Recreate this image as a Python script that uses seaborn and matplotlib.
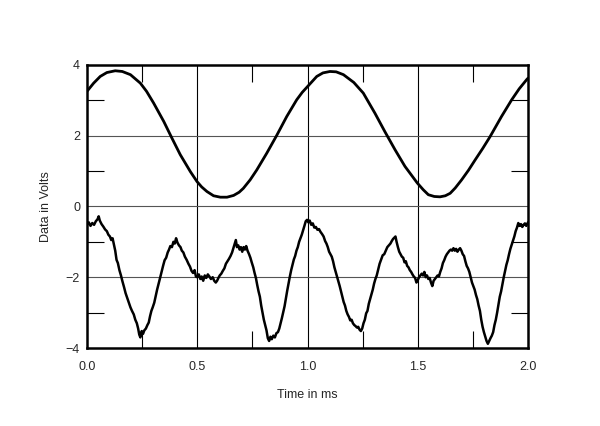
import pandas as pd
import matplotlib
matplotlib.use("Agg")
import matplotlib.pyplot as plt
from matplotlib.ticker import MultipleLocator
import seaborn as sns

# Smooth trace
sine_t = [0.0, 0.03, 0.06, 0.09, 0.128, 0.16, 0.197, 0.242, 0.27, 0.302,
          0.348, 0.385, 0.423, 0.469, 0.499, 0.52, 0.544, 0.574, 0.605, 0.635,
          0.665, 0.69, 0.709, 0.74, 0.770, 0.815, 0.860, 0.906, 0.951, 0.976,
          1.001, 1.042, 1.07, 1.102, 1.13, 1.163, 1.21, 1.253, 1.306, 1.351,
          1.397, 1.442, 1.498, 1.525, 1.548, 1.575, 1.601, 1.625, 1.647, 1.67,
          1.699, 1.730, 1.760, 1.795, 1.828, 1.880, 1.926, 1.96, 1.994, 2.0]
sine_v = [3.25, 3.48, 3.67, 3.78, 3.83, 3.81, 3.72, 3.48, 3.25, 2.92,
          2.40, 1.93, 1.46, 0.98, 0.70, 0.55, 0.42, 0.30, 0.26, 0.26,
          0.31, 0.40, 0.51, 0.75, 1.03, 1.50, 2.00, 2.54, 3.01, 3.22,
          3.39, 3.67, 3.77, 3.81, 3.80, 3.72, 3.50, 3.20, 2.63, 2.11,
          1.60, 1.13, 0.66, 0.47, 0.33, 0.28, 0.27, 0.30, 0.37, 0.52,
          0.75, 1.02, 1.31, 1.64, 1.97, 2.54, 3.01, 3.32, 3.58, 3.62]

# Noisy trace
noisy_t = [0.000, 0.008, 0.016, 0.024, 0.032, 0.040, 0.048, 0.053, 0.058, 0.066,
           0.074, 0.082, 0.090, 0.097, 0.104, 0.110, 0.116, 0.122, 0.128, 0.134,
           0.140, 0.147, 0.154, 0.160, 0.168, 0.175, 0.182, 0.190, 0.197, 0.204,
           0.212, 0.219, 0.226, 0.232, 0.237, 0.242, 0.248, 0.254, 0.260, 0.267,
           0.274, 0.280, 0.286, 0.292, 0.298, 0.305, 0.311, 0.318, 0.325, 0.331,
           0.338, 0.345, 0.352, 0.359, 0.366, 0.372, 0.378, 0.385, 0.392, 0.398,
           0.404, 0.410, 0.417, 0.424, 0.430, 0.437, 0.444, 0.452, 0.460, 0.467,
           0.474, 0.481, 0.488, 0.494, 0.500, 0.507, 0.514, 0.520, 0.527, 0.534,
           0.541, 0.548, 0.555, 0.562, 0.570, 0.577, 0.584, 0.590, 0.596, 0.602,
           0.609, 0.616, 0.623, 0.630, 0.637, 0.644, 0.651, 0.658, 0.664, 0.670,
           0.675, 0.680, 0.686, 0.692, 0.698, 0.704, 0.710, 0.716, 0.722, 0.728,
           0.735, 0.741, 0.747, 0.754, 0.760, 0.766, 0.772, 0.778, 0.784, 0.790,
           0.796, 0.802, 0.808, 0.814, 0.820, 0.826, 0.832, 0.838, 0.845, 0.852,
           0.859, 0.866, 0.872, 0.878, 0.884, 0.890, 0.896, 0.902, 0.908, 0.914,
           0.920, 0.926, 0.932, 0.938, 0.944, 0.950, 0.956, 0.962, 0.968, 0.974,
           0.980, 0.986, 0.992, 0.998, 1.004, 1.010, 1.017, 1.024, 1.031, 1.038,
           1.045, 1.052, 1.059, 1.066, 1.073, 1.080, 1.086, 1.092, 1.098, 1.104,
           1.110, 1.116, 1.122, 1.128, 1.134, 1.140, 1.146, 1.152, 1.158, 1.164,
           1.170, 1.176, 1.182, 1.188, 1.194, 1.200, 1.206, 1.212, 1.218, 1.224,
           1.230, 1.236, 1.242, 1.248, 1.254, 1.260, 1.266, 1.272, 1.278, 1.284,
           1.290, 1.296, 1.302, 1.308, 1.314, 1.320, 1.327, 1.334, 1.341, 1.348,
           1.355, 1.362, 1.369, 1.376, 1.382, 1.388, 1.394, 1.399, 1.404, 1.410,
           1.416, 1.422, 1.428, 1.434, 1.440, 1.446, 1.452, 1.458, 1.464, 1.470,
           1.476, 1.482, 1.488, 1.494, 1.500, 1.506, 1.512, 1.518, 1.524, 1.530,
           1.536, 1.542, 1.548, 1.554, 1.560, 1.566, 1.572, 1.578, 1.584, 1.590,
           1.596, 1.602, 1.608, 1.614, 1.620, 1.626, 1.632, 1.638, 1.644, 1.650,
           1.656, 1.662, 1.668, 1.674, 1.680, 1.686, 1.692, 1.698, 1.704, 1.710,
           1.716, 1.722, 1.728, 1.734, 1.740, 1.746, 1.752, 1.758, 1.764, 1.770,
           1.776, 1.782, 1.788, 1.794, 1.800, 1.806, 1.812, 1.818, 1.824, 1.830,
           1.836, 1.842, 1.848, 1.854, 1.860, 1.866, 1.872, 1.878, 1.884, 1.890,
           1.896, 1.902, 1.908, 1.914, 1.920, 1.926, 1.932, 1.938, 1.944, 1.950,
           1.956, 1.962, 1.968, 1.974, 1.980, 1.986, 1.992, 2.000]
noisy_v = [-0.52, -0.45, -0.55, -0.47, -0.52, -0.42, -0.36, -0.28, -0.40, -0.50,
           -0.57, -0.65, -0.70, -0.80, -0.85, -0.95, -0.90, -1.08, -1.25, -1.51,
           -1.60, -1.80, -1.95, -2.10, -2.28, -2.45, -2.58, -2.72, -2.85, -2.95,
           -3.05, -3.20, -3.30, -3.45, -3.62, -3.70, -3.52, -3.60, -3.50, -3.45,
           -3.35, -3.28, -3.10, -2.95, -2.85, -2.72, -2.55, -2.35, -2.18, -2.03,
           -1.85, -1.68, -1.52, -1.45, -1.30, -1.22, -1.12, -1.15, -1.00, -1.05,
           -0.90, -1.02, -1.10, -1.15, -1.25, -1.30, -1.42, -1.51, -1.62, -1.70,
           -1.82, -1.88, -1.80, -1.98, -2.00, -1.92, -2.05, -1.98, -2.10, -1.95,
           -2.02, -1.92, -1.98, -2.05, -2.00, -2.10, -2.15, -2.10, -2.02, -1.95,
           -1.90, -1.82, -1.75, -1.62, -1.55, -1.48, -1.40, -1.30, -1.18, -1.05,
           -0.95, -1.15, -1.10, -1.22, -1.15, -1.28, -1.15, -1.22, -1.12, -1.25,
           -1.35, -1.45, -1.58, -1.72, -1.88, -2.02, -2.22, -2.40, -2.55, -2.80,
           -3.00, -3.20, -3.35, -3.50, -3.72, -3.80, -3.68, -3.75, -3.65, -3.70,
           -3.58, -3.55, -3.45, -3.30, -3.15, -2.98, -2.82, -2.60, -2.38, -2.18,
           -1.98, -1.80, -1.65, -1.50, -1.40, -1.25, -1.15, -1.00, -0.90, -0.80,
           -0.68, -0.55, -0.42, -0.38, -0.45, -0.40, -0.52, -0.48, -0.60, -0.58,
           -0.66, -0.64, -0.72, -0.78, -0.85, -0.98, -1.05, -1.15, -1.28, -1.35,
           -1.42, -1.55, -1.72, -1.85, -1.98, -2.10, -2.25, -2.40, -2.55, -2.70,
           -2.80, -2.95, -3.05, -3.12, -3.22, -3.20, -3.30, -3.35, -3.38, -3.42,
           -3.40, -3.48, -3.52, -3.45, -3.30, -3.20, -3.02, -2.95, -2.75, -2.62,
           -2.50, -2.35, -2.18, -2.05, -1.95, -1.80, -1.62, -1.50, -1.38, -1.35,
           -1.25, -1.15, -1.10, -1.05, -0.98, -0.92, -0.88, -0.85, -1.00, -1.15,
           -1.28, -1.35, -1.42, -1.45, -1.58, -1.55, -1.68, -1.72, -1.80, -1.85,
           -1.92, -1.98, -2.02, -2.15, -2.08, -2.00, -1.95, -1.90, -1.95, -1.85,
           -2.00, -1.95, -2.05, -2.02, -2.15, -2.25, -2.10, -2.05, -2.00, -1.95,
           -1.98, -1.85, -1.75, -1.60, -1.52, -1.42, -1.35, -1.30, -1.25, -1.22,
           -1.25, -1.18, -1.25, -1.20, -1.28, -1.22, -1.18, -1.25, -1.35, -1.40,
           -1.55, -1.68, -1.75, -1.85, -2.00, -2.15, -2.25, -2.35, -2.50, -2.62,
           -2.80, -2.95, -3.20, -3.40, -3.55, -3.68, -3.80, -3.88, -3.80, -3.72,
           -3.65, -3.55, -3.35, -3.20, -3.00, -2.78, -2.55, -2.40, -2.20, -2.00,
           -1.82, -1.65, -1.52, -1.35, -1.20, -1.08, -0.95, -0.85, -0.70, -0.60,
           -0.47, -0.55, -0.50, -0.58, -0.52, -0.48, -0.55, -0.45]

x_ticks = [0.0, 0.5, 1.0, 1.5, 2.0]
x_labels = ["0.0", "0.5", "1.0", "1.5", "2.0"]

sine_df = pd.DataFrame({"t": sine_t, "v": sine_v})
noisy_df = pd.DataFrame({"t": noisy_t, "v": noisy_v})

sns.set_style("white")
plt.rcParams["font.family"] = ["Liberation Sans", "DejaVu Sans"]

fig = plt.figure(figsize=(6.0, 4.26), dpi=100)
ax = fig.add_axes([0.145, 0.183, 0.735, 0.665])

# grid lines: vertical black, horizontal grey
for xv in [0.5, 1.0, 1.5]:
    ax.axvline(xv, color="black", lw=0.8, zorder=1)
for yv in [-2, 0, 2]:
    ax.axhline(yv, color="#555555", lw=0.8, zorder=1)

sns.lineplot(data=sine_df, x="t", y="v", ax=ax, color="black", lw=2.0,
             sort=False, zorder=3)
sns.lineplot(data=noisy_df, x="t", y="v", ax=ax, color="black", lw=1.8,
             sort=False, zorder=3)

ax.set_xlim(0, 2.0)
ax.set_ylim(-4, 4)
ax.set_xticks(x_ticks)
ax.set_xticklabels(x_labels)
ax.xaxis.set_minor_locator(MultipleLocator(0.25))
ax.yaxis.set_major_locator(MultipleLocator(2))
ax.yaxis.set_minor_locator(MultipleLocator(1))
ax.tick_params(axis="x", which="major", length=0, labelsize=9, pad=9)
ax.tick_params(axis="y", which="major", length=0, labelsize=9, pad=5)
ax.tick_params(which="minor", direction="in", length=12, width=0.8,
               top=True, right=True, bottom=True, left=True, color="black")

for s in ax.spines.values():
    s.set_linewidth(1.8)
    s.set_color("black")

ax.set_xlabel("Time in ms", fontsize=9, labelpad=12)
ax.set_ylabel("Data in Volts", fontsize=9, labelpad=10)

fig.savefig("out.png", dpi=100)
